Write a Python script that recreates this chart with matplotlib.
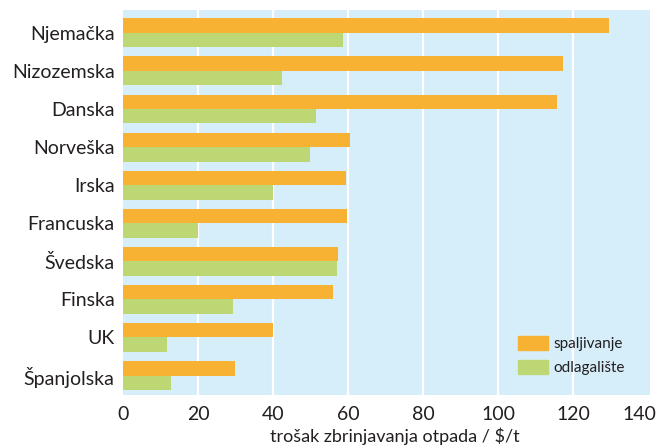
import numpy as np
import matplotlib.pyplot as plt
from matplotlib.patches import Patch
from matplotlib.transforms import ScaledTranslation

# data
countries = ['Njemačka', 'Nizozemska', 'Danska', 'Norveška', 'Irska',
             'Francuska', 'Švedska', 'Finska', 'UK', 'Španjolska']
spaljivanje = [129.5, 117.4, 115.8, 60.4, 59.5, 59.6, 57.3, 56.1, 39.9, 29.9]
odlagaliste = [58.6, 42.3, 51.5, 49.9, 39.9, 20.1, 57.0, 29.4, 11.6, 12.8]
xticks = [0, 20, 40, 60, 80, 100, 120, 140]

orange = '#F7B133'
green = '#BDD775'
bg = '#D6EEF9'
txt = '#231F20'

plt.rcParams['font.family'] = ['Lato', 'DejaVu Sans']

fig = plt.figure(figsize=(6.61, 4.45), dpi=100)
ax = fig.add_axes([123 / 661, 50 / 445, 527 / 661, 385 / 445])
ax.set_facecolor(bg)

y = np.arange(len(countries))
h = 0.38
ax.barh(y - h / 2, spaljivanje, height=h, color=orange, zorder=3)
ax.barh(y + h / 2, odlagaliste, height=h, color=green, zorder=3)

ax.set_ylim(len(countries) - 0.49, -0.6)
ax.set_xlim(0, 140.5)
ax.set_yticks(y)
ax.set_yticklabels(countries, fontsize=14, color=txt)
ax.set_xticks(xticks)
ax.set_xticklabels([str(t) for t in xticks], fontsize=14, color=txt)
ax.tick_params(axis='y', length=0, pad=6)
ax.tick_params(axis='x', length=0, pad=8)

# last tick label pulled in so it stays inside the figure
last = ax.get_xticklabels()[-1]
last.set_transform(last.get_transform() + ScaledTranslation(-9 / 100, 0, fig.dpi_scale_trans))

for g in xticks[1:-1]:
    ax.axvline(g, color='white', lw=1.6, zorder=1)

for s in ax.spines.values():
    s.set_visible(False)

ax.set_xlabel('trošak zbrinjavanja otpada / $/t', fontsize=13, color=txt,
              labelpad=0)
ax.xaxis.set_label_coords(0.515, -0.085)

handles = [Patch(color=orange), Patch(color=green)]
fig.legend(handles, ['spaljivanje', 'odlagalište'], loc='upper left',
           bbox_to_anchor=(518 / 661, 1 - 336 / 445), frameon=False,
           fontsize=11, handlelength=1.95, handleheight=1.0,
           handletextpad=0.35, labelspacing=0.6, borderpad=0,
           borderaxespad=0, labelcolor=txt)

fig.savefig('out.png', dpi=100)
